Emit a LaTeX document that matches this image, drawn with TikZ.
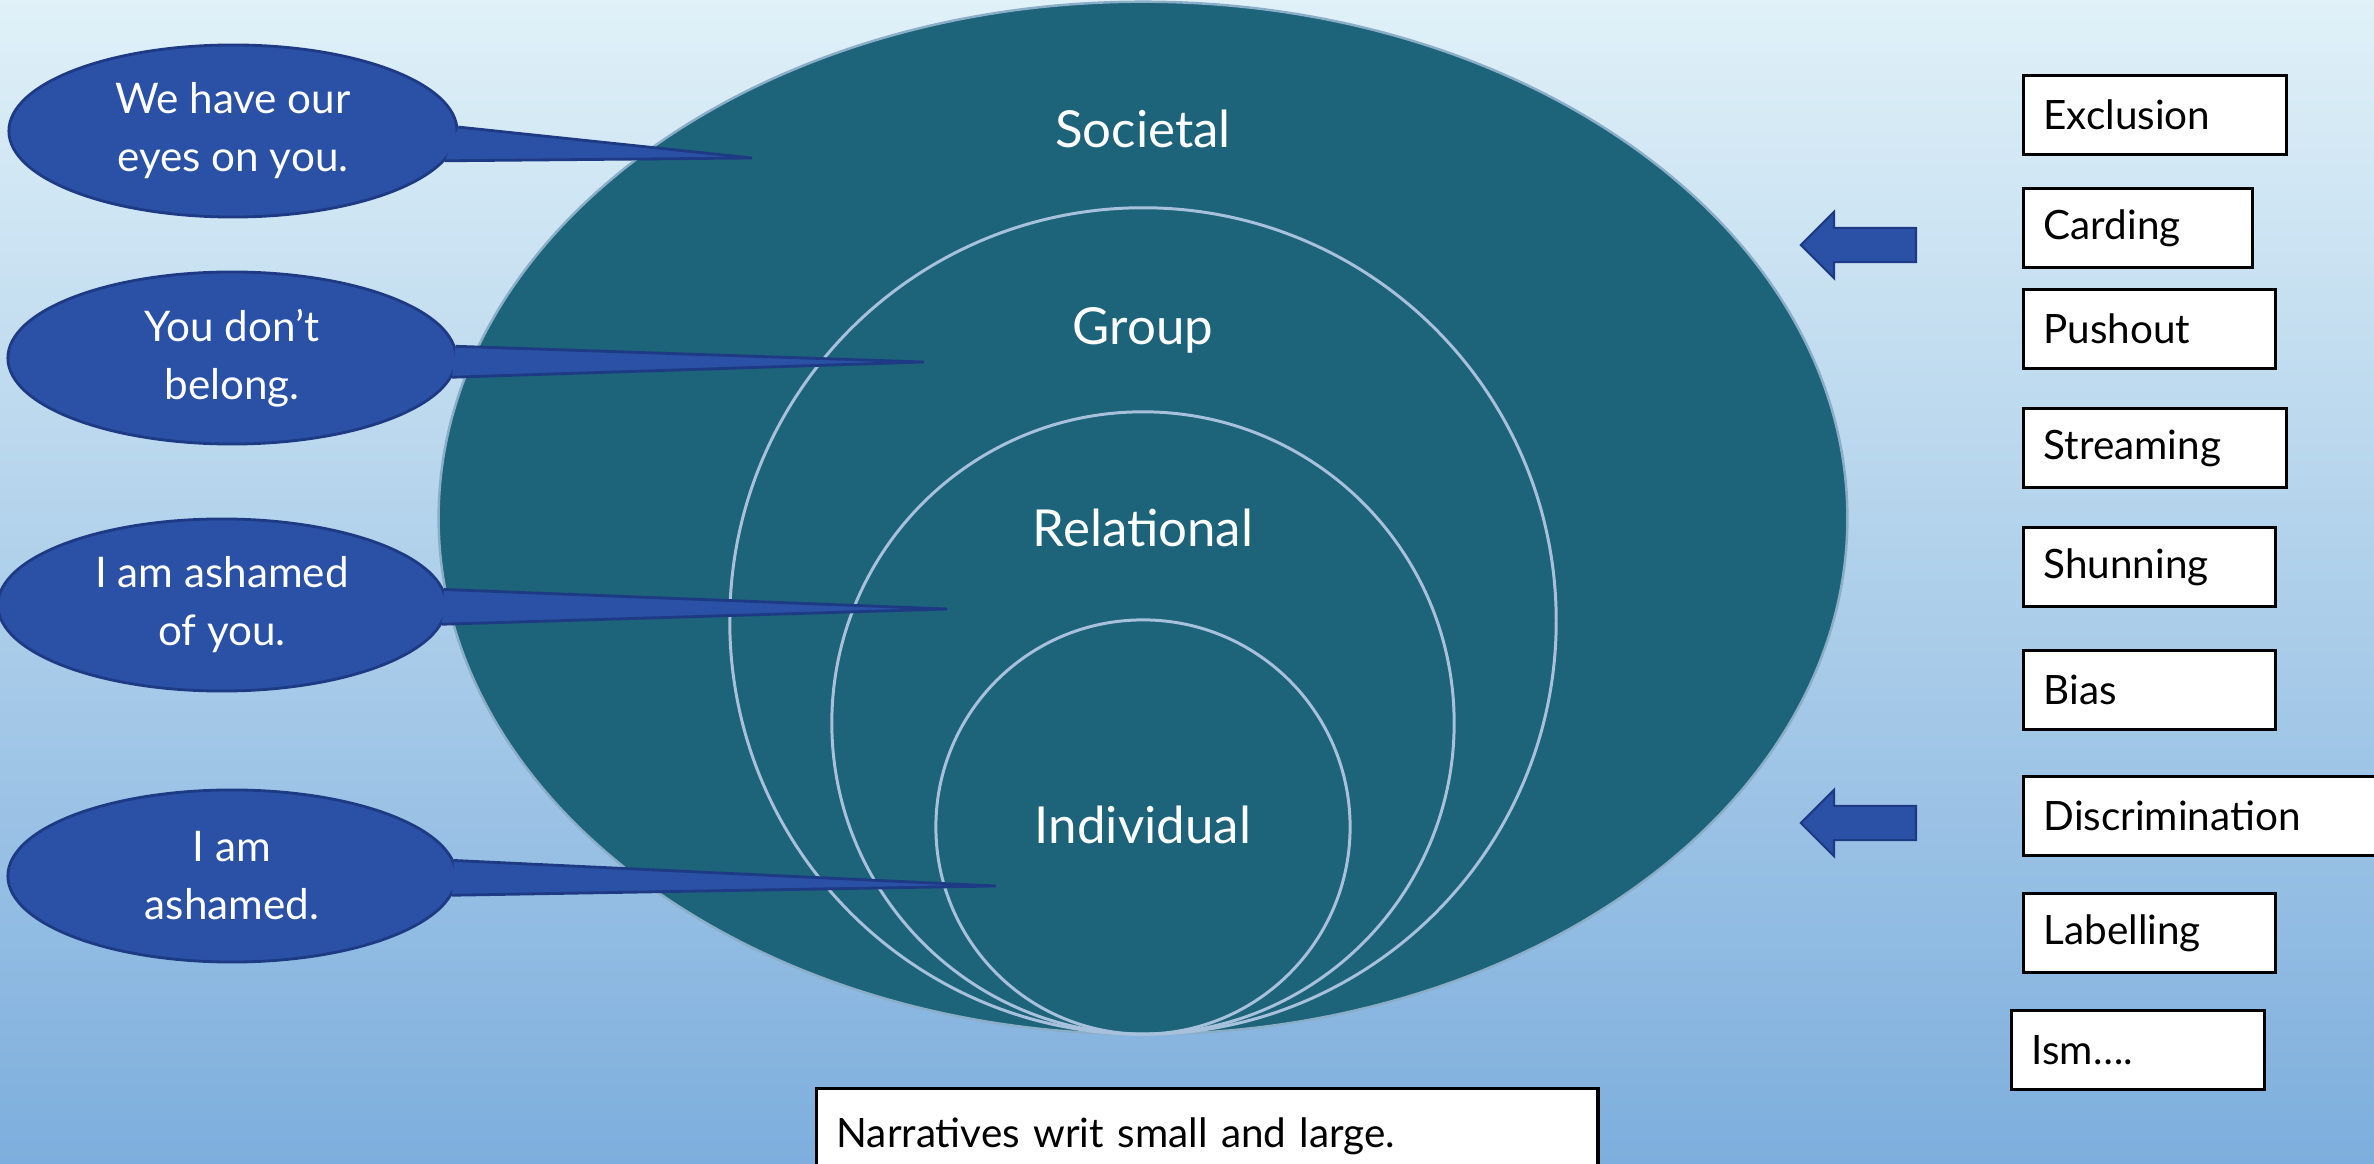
\documentclass[tikz,border=0pt]{standalone}
\usepackage{fontspec}
\setmainfont{Lato}
\usetikzlibrary{shapes.geometric,shapes.arrows}

\definecolor{sarcelle}{HTML}{1D637A}
\definecolor{bleubulle}{HTML}{2A51A5}
\definecolor{bordbulle}{HTML}{1E3A84}
\definecolor{trait}{HTML}{A7C1DC}
\definecolor{fondhaut}{HTML}{E0F1F8}
\definecolor{fondmilieu}{HTML}{B8D7EC}
\definecolor{fondbas}{HTML}{7DAEDD}

\tikzset{
  niveau/.style={text=white, font=\fontsize{14.5}{17}\selectfont},
  rond/.style={draw=trait, line width=0.85pt},
  bulle/.style={ellipse, fill=bleubulle, draw=bordbulle, line width=0.8pt,
    minimum width=4.48cm, minimum height=1.72cm, inner sep=0pt,
    text=white, align=center, font=\fontsize{12}{16.5}\selectfont},
  queue/.style={draw=bordbulle, line width=0.8pt, line join=miter},
  etiquette/.style={draw=black, fill=white, line width=0.9pt, anchor=west,
    minimum height=0.79cm, inner xsep=0.2cm, inner ysep=0pt, align=left,
    font=\fontsize{11.5}{14}\selectfont},
  fleche/.style={single arrow, shape border rotate=180, fill=bleubulle,
    draw=bordbulle, line width=0.6pt, minimum height=1.15cm,
    minimum width=0.64cm, single arrow head extend=0.16cm,
    inner xsep=0pt, inner ysep=0.16cm}
}

\begin{document}
\begin{tikzpicture}[x=0.01cm, y=-0.01cm]
\useasboundingbox (0,0) rectangle (2374,1164);
% fond
\shade[top color=fondhaut, middle color=fondmilieu, bottom color=fondbas]
  (0,0) rectangle (2374,1164);
\clip (0,0) rectangle (2374,1164);

% les niveaux
\filldraw[fill=sarcelle, draw=trait!80!sarcelle, line width=0.7pt]
  (1143,518) ellipse [x radius=7.04cm, y radius=5.16cm];
\draw[rond] (1143,621) circle [radius=4.13cm];
\draw[rond] (1143,723) circle [radius=3.11cm];
\draw[rond] (1143,827) circle [radius=2.07cm];

\node[niveau] (soc) at (1143,129) {Societal};
\node[niveau] (grp) at (1143,330) {Group};
\node[niveau] (rel) at (1143,528) {Relational};
\node[niveau] (ind) at (1143,825) {Individual};

% bulles
\node[bulle] (b1) at (233,131) {We have our\\eyes on you.};
\node[bulle] (b2) at (232,358) {You don’t\\belong.};
\node[bulle] (b3) at (222,605) {I am ashamed\\of you.};
\node[bulle] (b4) at (232,876) {I am\\ashamed.};

\coordinate (p1) at (752,158);
\coordinate (p2) at (924,362);
\coordinate (p3) at (947,609);
\coordinate (p4) at (996,886);

\fill[bleubulle] (b1.1) -- (p1) -- (b1.-8) -- cycle;
\draw[queue] (b1.1) -- (p1) -- (b1.-8);
\fill[bleubulle] (b2.3) -- (p2) -- (b2.-5) -- cycle;
\draw[queue] (b2.3) -- (p2) -- (b2.-5);
\fill[bleubulle] (b3.4) -- (p3) -- (b3.-5) -- cycle;
\draw[queue] (b3.4) -- (p3) -- (b3.-5);
\fill[bleubulle] (b4.4) -- (p4) -- (b4.-5) -- cycle;
\draw[queue] (b4.4) -- (p4) -- (b4.-5);

% fleches
\node[fleche] (f1) at (1867,245) {};
\node[fleche] (f2) at (1867,823) {};

% etiquettes
\node[etiquette, text width=2.23cm] (excl) at (2022,115) {Exclusion};
\node[etiquette, text width=1.89cm] (card) at (2022,228) {Carding};
\node[etiquette, text width=2.12cm] (push) at (2022,329) {Pushout};
\node[etiquette, text width=2.23cm] (strm) at (2022,448) {Streaming};
\node[etiquette, text width=2.12cm] (shun) at (2022,567) {Shunning};
\node[etiquette, text width=2.12cm] (bias) at (2022,690) {Bias};
\node[etiquette, text width=3.20cm] (disc) at (2022,816) {Discrimination};
\node[etiquette, text width=2.12cm] (labl) at (2022,933) {Labelling};
\node[etiquette, text width=2.13cm] (ism) at (2010,1050) {Ism….};

\node[etiquette, anchor=north west, text width=7.41cm, minimum height=0.96cm]
  (recit) at (815,1087) {Narratives writ small and large.};
\end{tikzpicture}
\end{document}
